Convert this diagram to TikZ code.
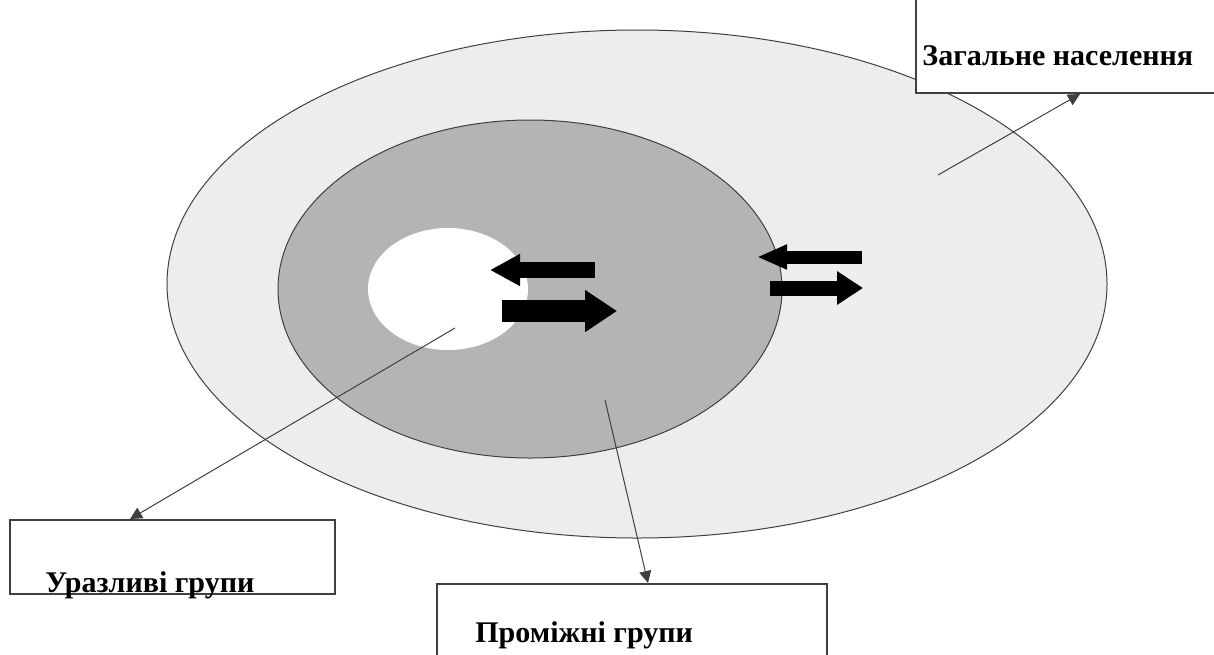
\documentclass[tikz,border=0pt]{standalone}
\usepackage{fontspec}
\setmainfont{Liberation Serif}
\usetikzlibrary{arrows.meta}
\usetikzlibrary{shapes.geometric}

\definecolor{popgray}{RGB}{237,237,237}
\definecolor{midgray}{RGB}{180,180,180}

\begin{document}
\begin{tikzpicture}[x=0.5pt,y=-0.5pt,
    zone/.style={ellipse,inner sep=0pt,outer sep=0pt},
    labelbox/.style={draw=black!75,line width=0.7pt,fill=white,inner sep=0pt},
    caption/.style={font=\fontsize{15}{18}\selectfont\bfseries,inner sep=0pt,anchor=base west},
    pointer/.style={draw=black!75,line width=0.5pt,-{Triangle[length=6pt,width=6pt]}},
    fatarrow/.style n args={3}{line width=#1,-{Triangle[length=#2,width=#3]}}]
    \useasboundingbox (0,0) rectangle (1214,654);
    \clip (0,0) rectangle (1214,654);

        % zones
        \node[zone,draw=black!75,line width=0.5pt,fill=popgray,minimum width=470pt,minimum height=254pt] (pop) at (637,284) {};
        \node[zone,draw=black!75,line width=0.5pt,fill=midgray,minimum width=252pt,minimum height=169pt] (mid) at (530,289) {};
        \node[zone,fill=white,minimum width=80pt,minimum height=61pt] (core) at (448,289) {};

        % exchange arrows
        \coordinate (a1s) at (595,270); \coordinate (a1e) at (490,270);
        \coordinate (a2s) at (502,311); \coordinate (a2e) at (617,311);
        \coordinate (b1s) at (862,257); \coordinate (b1e) at (757,257);
        \coordinate (b2s) at (770,288); \coordinate (b2e) at (863,288);
        \draw[fatarrow={8pt}{15pt}{15pt}] (a1s) -- (a1e);
        \draw[fatarrow={11pt}{16pt}{20pt}] (a2s) -- (a2e);
        \draw[fatarrow={6.5pt}{15pt}{11.5pt}] (b1s) -- (b1e);
        \draw[fatarrow={7.5pt}{13pt}{16pt}] (b2s) -- (b2e);

        % label boxes
        \node[labelbox,minimum width=157pt,minimum height=51.5pt] (popbox) at (1073,41.5) {};
        \node[labelbox,minimum width=162.5pt,minimum height=37pt] (corebox) at (172.5,557) {};
        \node[labelbox,minimum width=195pt,minimum height=43pt] (midbox) at (632,627) {};

        % pointers
        \coordinate (popdot) at (938,175);  \coordinate (poptip) at (1080,94);
        \coordinate (coredot) at (455,328); \coordinate (coretip) at (130,519);
        \coordinate (middot) at (605,400);  \coordinate (midtip) at (648,583);
        \draw[pointer] (popdot) -- (poptip);
        \draw[pointer] (coredot) -- (coretip);
        \draw[pointer] (middot) -- (midtip);

        \node[caption] (poptext) at (922,65) {Загальне населення};
        \node[caption] (coretext) at (45,592) {Уразливі групи};
        \node[caption] (midtext) at (475,642) {Проміжні групи};

\end{tikzpicture}
\end{document}
